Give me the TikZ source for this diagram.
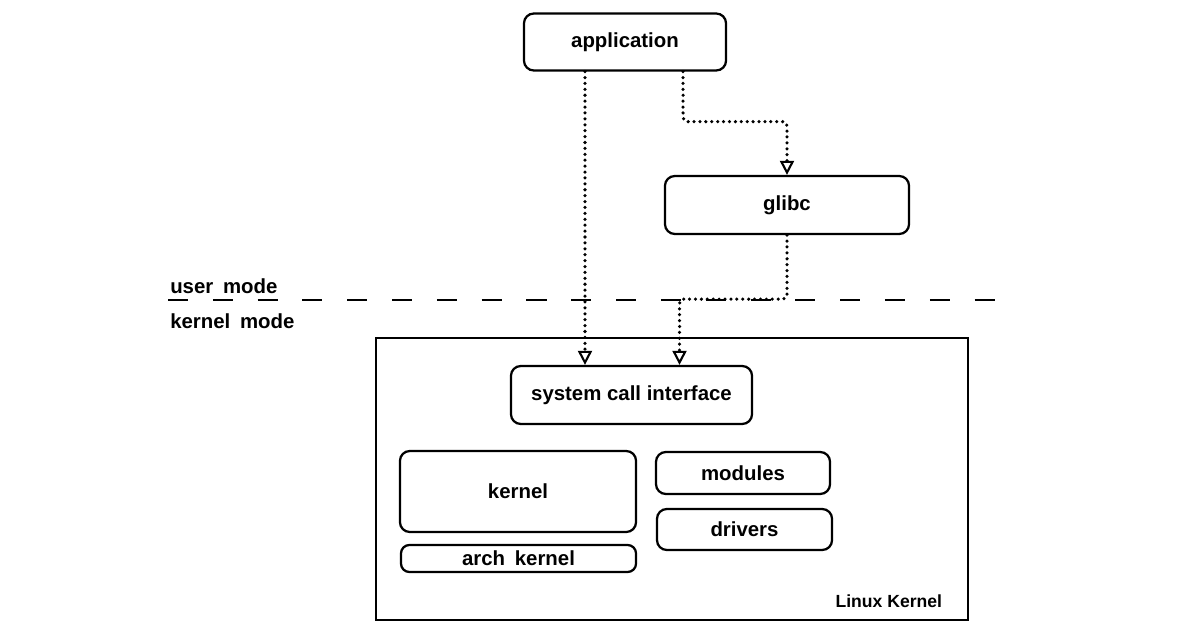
\documentclass[tikz,border=0pt]{standalone}
\usepackage{fontspec}
\setmainfont{Liberation Sans}
\usetikzlibrary{positioning,calc,arrows.meta}

\begin{document}
\begin{tikzpicture}[x=0.025cm,y=-0.025cm,
    block/.style={rectangle,rounded corners=7pt,draw=black,line width=1.6pt,
                  fill=white,font=\fontsize{14.5}{17}\selectfont\bfseries},
    outer/.style={rectangle,draw=black,line width=1.3pt},
    modelabel/.style={font=\fontsize{14.5}{17}\selectfont\bfseries,anchor=west,inner sep=0pt},
    calls/.style={line width=2.5pt,line cap=round,dash pattern=on 0pt off 4.2pt,
                  -{Triangle[open,length=10pt,width=10pt,line width=1.5pt]}},
  ]
    \useasboundingbox (0,0) rectangle (1184,636);

    % user space
    \node[block,minimum width=5.05cm,minimum height=1.425cm] (app)   at (625,42)  {application};
    \node[block,minimum width=6.1cm,minimum height=1.45cm]   (glibc) at (787,205) {glibc};

    % mode boundary
    \node[modelabel] (user)   at (170,286) {user\hspace{0.2em} mode};
    \node[modelabel] (kmode)  at (170,321) {kernel\hspace{0.2em} mode};
    \draw[line width=1.5pt,dash pattern=on 0.5cm off 0.62cm] (168,300) -- (1003,300);

    % kernel space
    \node[outer,minimum width=14.8cm,minimum height=7.05cm] (linux) at (672,479) {};
    \node[font=\fontsize{12.5}{15}\selectfont\bfseries,anchor=south east]
         (lklabel) at ([xshift=-0.55cm,yshift=0.2cm]linux.south east) {Linux Kernel};
    \node[block,minimum width=6.025cm,minimum height=1.45cm] (sci)  at (631.5,395) {system call interface};
    \node[block,minimum width=5.9cm,minimum height=2.025cm]  (kern) at (518,491.5) {kernel};
    \node[block,rounded corners=6pt,minimum width=5.875cm,minimum height=0.675cm,inner sep=0pt]
         (arch) at (518.5,558.5) {arch\hspace{0.2em} kernel};
    \node[block,minimum width=4.35cm,minimum height=1.05cm]  (mods) at (743,473) {modules};
    \node[block,minimum width=4.375cm,minimum height=1.025cm] (drv) at (744.5,529.5) {drivers};

    % calls
    \draw[calls] ([xshift=-1cm]app.south) -- ([xshift=-1cm]app.south |- sci.north);
    \draw[calls,rounded corners=3pt] ([xshift=1.45cm]app.south) -- ++(0,-1.25cm) -| (glibc.north);
    \draw[calls,rounded corners=3pt] (glibc.south) -- ++(0,-1.6cm) -| ([xshift=1.2cm]sci.north);
\end{tikzpicture}
\end{document}
